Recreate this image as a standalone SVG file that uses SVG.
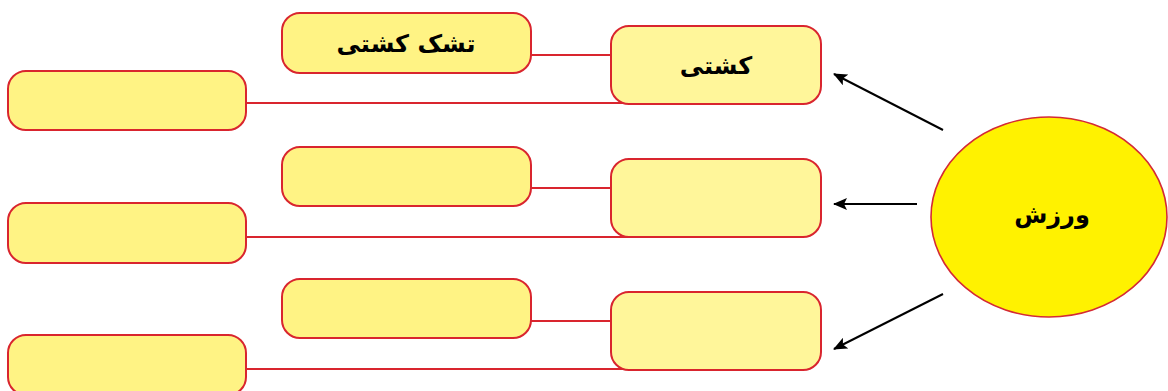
<svg xmlns="http://www.w3.org/2000/svg" width="1168" height="391" viewBox="0 0 1168 391">
<style>
.box{fill:#FFF384;stroke:#D9252E;stroke-width:2}
.mid{fill:#FFF69A;stroke:#D9252E;stroke-width:2}
.link{stroke:#D9252E;stroke-width:2.2;fill:none}
.arrow{stroke:#000;stroke-width:2;fill:none}
.lbl{font-family:"DejaVu Sans",sans-serif;font-weight:bold;font-size:24px;fill:#000;text-anchor:middle;dominant-baseline:central}
</style>
<defs>
<marker id="ah" viewBox="0 0 14 12" refX="13" refY="6" markerWidth="14" markerHeight="12" markerUnits="userSpaceOnUse" orient="auto">
<path d="M0,0 L14,6 L0,12 L3,6 z" fill="#000"/>
</marker>
</defs>
<g id="connectors">
<line class="link" x1="531" y1="55" x2="612" y2="55"/>
<line class="link" x1="246" y1="103" x2="640" y2="103"/>
<line class="link" x1="531" y1="188" x2="612" y2="188"/>
<line class="link" x1="246" y1="237" x2="640" y2="237"/>
<line class="link" x1="531" y1="321" x2="612" y2="321"/>
<line class="link" x1="246" y1="369" x2="640" y2="369"/>
<line class="arrow" x1="943" y1="130" x2="834" y2="74" marker-end="url(#ah)"/>
<line class="arrow" x1="917" y1="204" x2="834" y2="204" marker-end="url(#ah)"/>
<line class="arrow" x1="943" y1="294" x2="834" y2="349" marker-end="url(#ah)"/>
</g>
<g id="r1-small"><rect class="box" x="282" y="13" width="249" height="60" rx="18"/><text class="lbl" x="406" y="44">تشک کشتی</text></g>
<g id="r1-mid"><rect class="mid" x="611" y="26" width="210" height="78" rx="18"/><text class="lbl" x="716" y="66">کشتی</text></g>
<g id="r1-left"><rect class="box" x="8" y="71" width="238" height="59" rx="18"/></g>
<g id="r2-small"><rect class="box" x="282" y="147" width="249" height="59" rx="18"/></g>
<g id="r2-mid"><rect class="mid" x="611" y="159" width="210" height="78" rx="18"/></g>
<g id="r2-left"><rect class="box" x="8" y="203" width="238" height="60" rx="18"/></g>
<g id="r3-small"><rect class="box" x="282" y="279" width="249" height="59" rx="18"/></g>
<g id="r3-mid"><rect class="mid" x="611" y="292" width="210" height="78" rx="18"/></g>
<g id="r3-left"><rect class="box" x="8" y="335" width="238" height="60" rx="18"/></g>
<g id="root"><ellipse cx="1049" cy="217" rx="118" ry="100" fill="#FFF200" stroke="#D42A35" stroke-width="1.6"/><text class="lbl" x="1052" y="215">ورزش</text></g>
</svg>
